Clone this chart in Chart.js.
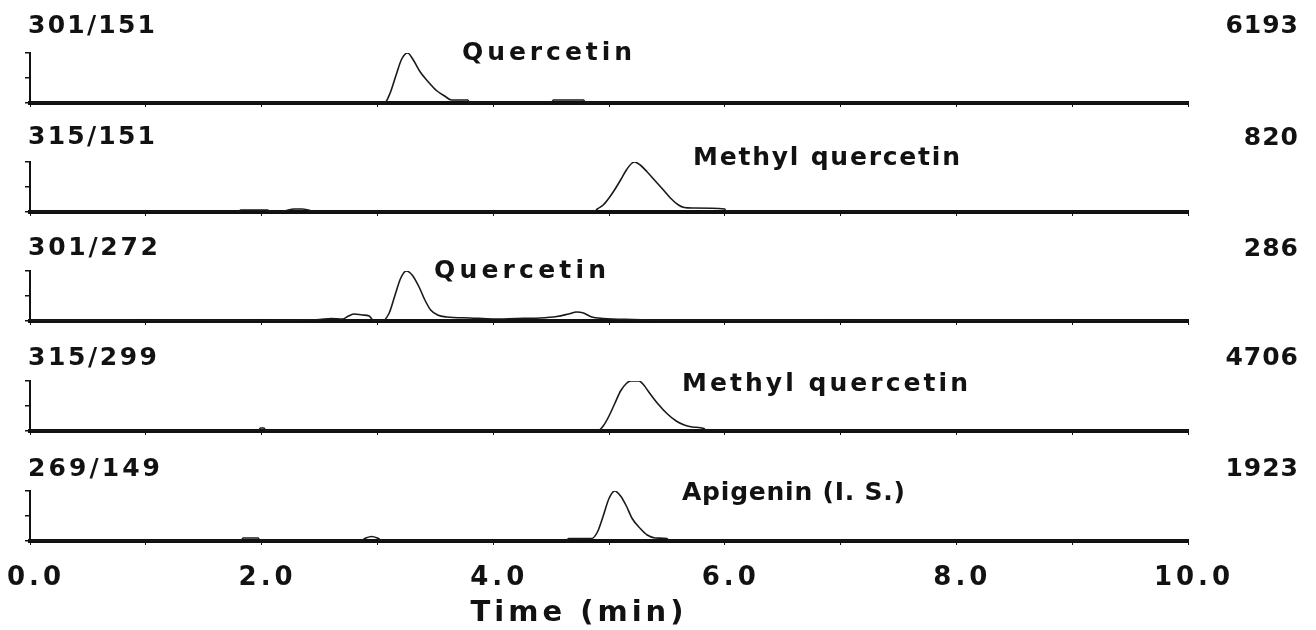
<!DOCTYPE html>
<html>
<head>
<meta charset="utf-8">
<script src="https://cdn.jsdelivr.net/npm/chart.js@4.4.1/dist/chart.umd.min.js"></script>
<style>
html,body{margin:0;padding:0;background:#fff;overflow:hidden;}
#wrap{position:relative;width:1316px;height:630px;overflow:hidden;}
#wrap canvas{position:absolute;left:0;}
</style>
</head>
<body>
<div id="wrap">
  <canvas id="p0" width="1316" height="104"></canvas>
  <canvas id="p1" width="1316" height="104"></canvas>
  <canvas id="p2" width="1316" height="104"></canvas>
  <canvas id="p3" width="1316" height="104"></canvas>
  <canvas id="p4" width="1316" height="184"></canvas>
</div>
<script>
// ===== data =====
const TRANSITIONS=['301/151','315/151','301/272','315/299','269/149'];
const MAX_COUNTS=['6193','820','286','4706','1923'];
const COMPOUNDS=['Quercetin','Methyl quercetin','Quercetin','Methyl quercetin','Apigenin (I. S.)'];
const X_TICKS=[0,2,4,6,8,10];
const X_TICK_LABELS=['0.0','2.0','4.0','6.0','8.0','10.0'];
const X_TITLE='Time (min)';

// retention time (min) / relative intensity (%) per trace
const T_301_151=[0,2.93,3.06,3.11,3.16,3.21,3.26,3.31,3.37,3.44,3.51,3.58,3.64,3.78,3.8,4.5,4.52,4.78,4.8,10];
const I_301_151=[0,0,0,20,55,88,100,86,62,42,25,14,6,6,0,0,6,6,0,0];
const T_315_151=[0,1.8,1.82,2.05,2.08,2.2,2.28,2.35,2.42,2.45,4.87,4.9,4.95,5.0,5.05,5.1,5.15,5.2,5.22,5.27,5.33,5.4,5.47,5.53,5.6,5.65,5.72,6.0,6.01,10];
const I_315_151=[0,0,4,4,0,2,6,6,3,0,0,6,14,28,45,64,84,98,100,94,80,62,44,28,14,9,8,6,0,0];
const T_301_272=[0,0.5,1.0,1.5,2.0,2.3,2.5,2.6,2.7,2.75,2.8,2.87,2.93,2.97,3.04,3.1,3.15,3.2,3.25,3.3,3.36,3.41,3.46,3.52,3.6,3.8,4.0,4.2,4.4,4.55,4.65,4.72,4.78,4.85,4.95,5.2,5.5,6,7,8,9,10];
const I_301_272=[1,2,1,2,1,2,3,5,4,10,14,12,10,0,0,15,50,85,100,92,68,42,22,12,8,6,4,5,6,9,14,18,16,8,5,3,2,2,1,2,1,1];
const T_315_299=[0,1.97,1.99,2.02,2.04,4.9,4.95,5.0,5.05,5.1,5.15,5.19,5.26,5.3,5.35,5.42,5.5,5.58,5.65,5.72,5.82,5.84,10];
const I_315_299=[0,0,6,6,0,0,10,30,55,80,95,100,100,92,76,55,35,20,12,8,5,0,0];
const T_269_149=[0,1.82,1.84,1.97,1.99,2.85,2.9,2.95,3.0,3.05,4.63,4.65,4.85,4.9,4.95,5.0,5.05,5.1,5.15,5.2,5.27,5.33,5.4,5.5,5.52,10];
const I_269_149=[0,0,6,6,0,0,6,9,6,0,0,5,5,18,50,85,100,90,70,45,25,12,6,5,0,0];
const TRACES=[[T_301_151,I_301_151],[T_315_151,I_315_151],[T_301_272,I_301_272],[T_315_299,I_315_299],[T_269_149,I_269_149]];

// ===== layout =====
const BASE_Y=[103,212,321,431,541];          // page y of each trace baseline
const LEFT_TXT={x:28,y:[33,144,255,365,476],w:[127,127,130,129,132]};
const RIGHT_TXT={x:1298,y:[33,145,256,365,476]};
const NAME_TXT={x:[462,693,434,682,682],y:[60,165,278,391,500],w:[170,267,172,286,223]};
const TITLE_POS={cx:577,y:621};
const FONT='bold 25px "DejaVu Sans"';
const INK='#121212';
const HAS_LS='letterSpacing' in CanvasRenderingContext2D.prototype;

function spacedText(ctx,txt,x,y,w){
  if(HAS_LS)ctx.letterSpacing='0px';
  const nat=ctx.measureText(txt).width,n=txt.length;
  const sp=n>1?(w-nat)/(n-1):0;
  if(HAS_LS)ctx.letterSpacing=sp+'px';
  ctx.textAlign='left';
  ctx.fillText(txt,x,y);
  if(HAS_LS)ctx.letterSpacing='0px';
}

// wider tracking for the axis tick labels, as in the scanned figure
const axisTracking={id:'axisTracking',
  beforeDraw(chart){if(HAS_LS)chart.ctx.letterSpacing='4px';},
  beforeDatasetsDraw(chart){if(HAS_LS)chart.ctx.letterSpacing='0px';}};

const panelText={id:'panelText',afterDraw(chart,args,o){
  const ctx=chart.ctx,i=o.idx,off=o.offset;
  ctx.save();ctx.fillStyle=INK;ctx.textBaseline='alphabetic';ctx.font=FONT;
  spacedText(ctx,TRANSITIONS[i],LEFT_TXT.x,LEFT_TXT.y[i]-off,LEFT_TXT.w[i]);
  spacedText(ctx,COMPOUNDS[i],NAME_TXT.x[i],NAME_TXT.y[i]-off,NAME_TXT.w[i]);
  if(HAS_LS)ctx.letterSpacing='1px';
  ctx.textAlign='right';
  ctx.fillText(MAX_COUNTS[i],RIGHT_TXT.x+1,RIGHT_TXT.y[i]-off);
  if(o.last){
    ctx.font='bold 29px "DejaVu Sans"';
    if(HAS_LS)ctx.letterSpacing='4px';
    ctx.textAlign='center';
    ctx.fillText(X_TITLE,TITLE_POS.cx+2,TITLE_POS.y-off);
  }
  ctx.restore();
}};

function makePanel(i){
  const canvas=document.getElementById('p'+i);
  const top=BASE_Y[i]-95;canvas.style.top=top+'px';
  const last=i===TRACES.length-1;
  const [t,v]=TRACES[i];
  return new Chart(canvas.getContext('2d'),{
    type:'line',
    data:{datasets:[{data:t.map((x,k)=>({x,y:v[k]})),borderColor:'#1a1a1a',borderWidth:1.6,pointRadius:0,cubicInterpolationMode:'monotone',fill:false}]},
    options:{responsive:false,animation:false,devicePixelRatio:1,
      layout:{padding:{top:45,left:25,right:128,bottom:last?0:5}},
      plugins:{legend:{display:false},tooltip:{enabled:false},panelText:{idx:i,offset:top,last}},
      scales:{
        x:{type:'linear',min:0,max:10,
          afterFit:s=>{s.paddingLeft=0;s.paddingRight=0;if(last)s.height=canvas.height-95;},
          ticks:{display:last,stepSize:1,autoSkip:false,maxRotation:0,padding:18,labelOffset:6,color:INK,font:{family:'DejaVu Sans',size:26,weight:'bold'},
            callback:val=>{const k=X_TICKS.indexOf(val);return k>=0?X_TICK_LABELS[k]:'';}},
          grid:{drawOnChartArea:false,tickLength:4,color:'#111',lineWidth:1},
          border:{color:'#111',width:4}},
        y:{min:0,max:100,
          ticks:{display:false,stepSize:50},
          grid:{drawOnChartArea:false,tickLength:5,color:'#111',lineWidth:1.5},
          border:{color:'#111',width:2}}
      }
    },
    plugins:[axisTracking,panelText]
  });
}
TRACES.forEach((_,i)=>makePanel(i));
</script>
</body>
</html>
